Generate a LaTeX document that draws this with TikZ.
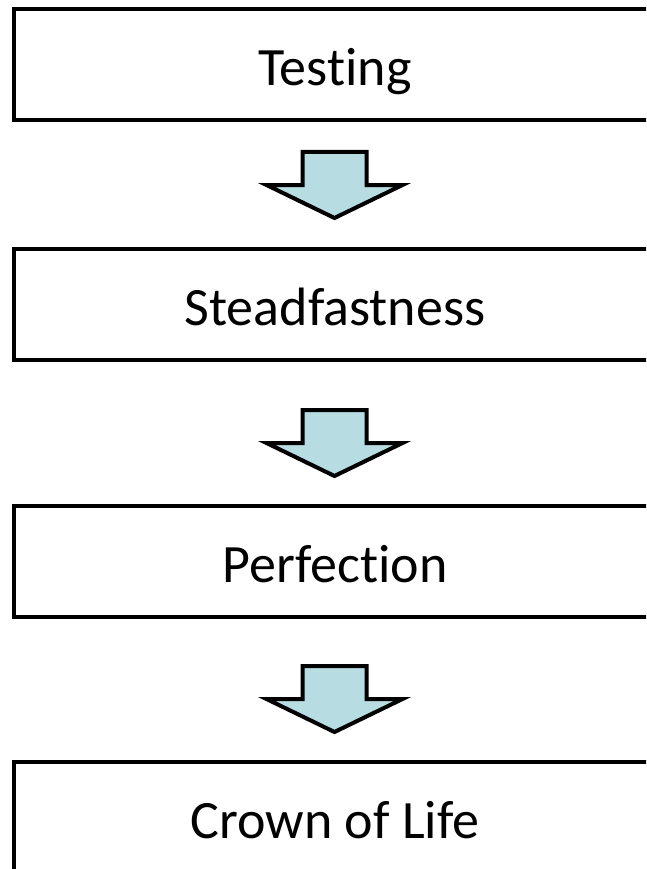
\documentclass[tikz,border=0pt]{standalone}
\usepackage{fontspec}
\setmainfont[Ligatures={NoCommon}]{Carlito}
\definecolor{arrowfill}{RGB}{183,221,226}
\tikzset{
  stagebox/.style={draw=black, line width=4pt, fill=white, rectangle,
    minimum width=642pt, minimum height=111pt, inner sep=0pt,
    text height=42pt, text depth=0pt,
    font=\fontsize{54}{60}\selectfont},
  pics/downarr/.style={code={
    \draw[line width=4pt, fill=arrowfill, line join=miter]
      (-32pt,0pt) -- (32pt,0pt) -- (32pt,-33pt) -- (68pt,-33pt)
      -- (0pt,-66pt) -- (-68pt,-33pt) -- (-32pt,-33pt) -- cycle;
  }}
}
\begin{document}
\begin{tikzpicture}[x=1pt,y=1pt]
\useasboundingbox (0,0) rectangle (646,-869);
\clip (0,0) rectangle (646,-869);
\node[stagebox] (testing) at (335,-64.5) {Testing};
\node[stagebox] (steadfast) at (335,-304) {Steadfastness};
\node[stagebox] (perfection) at (335,-561) {Perfection};
\node[stagebox] (crown) at (335,-817) {Crown of Life};
\coordinate (a1) at (334.5,-152);
\coordinate (a2) at (334.5,-410);
\coordinate (a3) at (334.5,-666);
\pic at (a1) {downarr};
\pic at (a2) {downarr};
\pic at (a3) {downarr};
\end{tikzpicture}
\end{document}
